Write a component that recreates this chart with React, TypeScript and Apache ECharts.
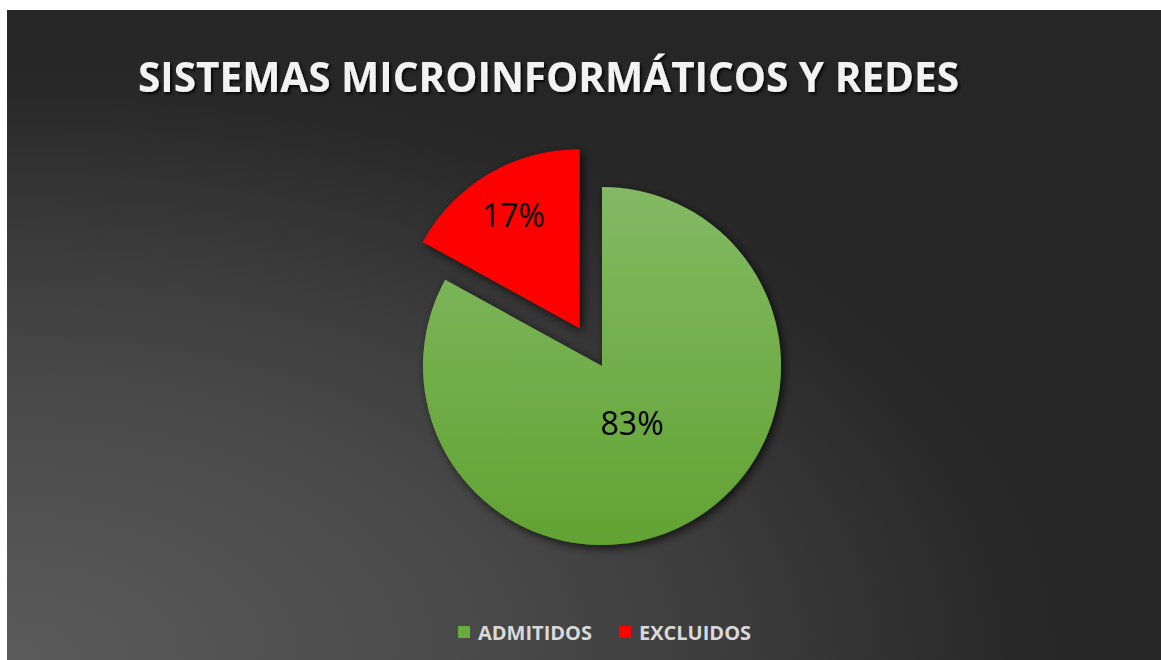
import React, { useEffect, useRef } from "react";
import * as echarts from "echarts";

const titleText = "SISTEMAS MICROINFORMÁTICOS Y REDES";
const categories = ["ADMITIDOS", "EXCLUIDOS"];
const values = [83, 17];
const labelTexts = ["83%", "17%"];
const labelShift = [
  [-17, -23],
  [-19, -34],
];

export default function App() {
  const ref = useRef<HTMLDivElement>(null);
  useEffect(() => {
    if (!ref.current) return;
    const chart = echarts.init(ref.current, undefined, { renderer: "svg" });
    const green = new echarts.graphic.LinearGradient(0, 0, 0, 1, [
      { offset: 0, color: "#83b964" },
      { offset: 1, color: "#62a333" },
    ]);
    const colors = [green, "#ff0000"];
    chart.setOption({
      animation: false,
      graphic: [
        {
          type: "rect",
          z: -10,
          silent: true,
          shape: { x: 0, y: 0, width: 1154, height: 650 },
          style: {
            fill: new echarts.graphic.RadialGradient(0, 1, 1, [
              { offset: 0, color: "#5b5b5b" },
              { offset: 0.4, color: "#4a4a4a" },
              { offset: 0.6, color: "#3e3e3e" },
              { offset: 0.88, color: "#282828" },
              { offset: 1, color: "#262626" },
            ]),
          },
        },
      ],
      title: {
        text: titleText,
        left: 131,
        top: 46,
        padding: 0,
        textStyle: {
          fontFamily: "Open Sans",
          fontWeight: "bold",
          fontSize: 40.5,
          color: "#f2f2f2",
          textShadowColor: "rgba(0,0,0,0.85)",
          textShadowBlur: 3,
          textShadowOffsetX: 2,
          textShadowOffsetY: 2,
        },
      },
      legend: {
        left: 451,
        top: 612,
        padding: 0,
        icon: "rect",
        itemWidth: 12,
        itemHeight: 12,
        itemGap: 27,
        data: [
          { name: categories[0], itemStyle: { color: "#6aab3e" } },
          { name: categories[1], itemStyle: { color: "#ff0000" } },
        ],
        textStyle: {
          fontFamily: "Open Sans",
          fontWeight: "bold",
          fontSize: 20,
          color: "#d9d9d9",
          padding: [0, 0, 0, 3],
        },
      },
      series: [
        {
          type: "pie",
          center: [595, 356],
          radius: 179,
          startAngle: 90,
          clockwise: true,
          selectedMode: "multiple",
          selectedOffset: 44,
          emphasis: { disabled: true },
          label: {
            show: true,
            position: "inside",
            fontFamily: "Open Sans",
            fontSize: 32,
            color: "#000000",
            formatter: (p: any) => labelTexts[p.dataIndex],
          },
          labelLine: { show: false },
          labelLayout: (p: any) => ({
            dx: labelShift[p.dataIndex][0],
            dy: labelShift[p.dataIndex][1],
          }),
          itemStyle: {
            shadowBlur: 10,
            shadowColor: "rgba(0,0,0,0.7)",
            shadowOffsetX: 3,
            shadowOffsetY: 3,
          },
          data: categories.map((name, i) => ({
            name,
            value: values[i],
            selected: i === 1,
            itemStyle: { color: colors[i] },
          })),
        },
      ],
    });
    return () => chart.dispose();
  }, []);
  return (
    <div
      ref={ref}
      style={{ position: "absolute", left: 7, top: 10, width: 1154, height: 650 }}
    />
  );
}
